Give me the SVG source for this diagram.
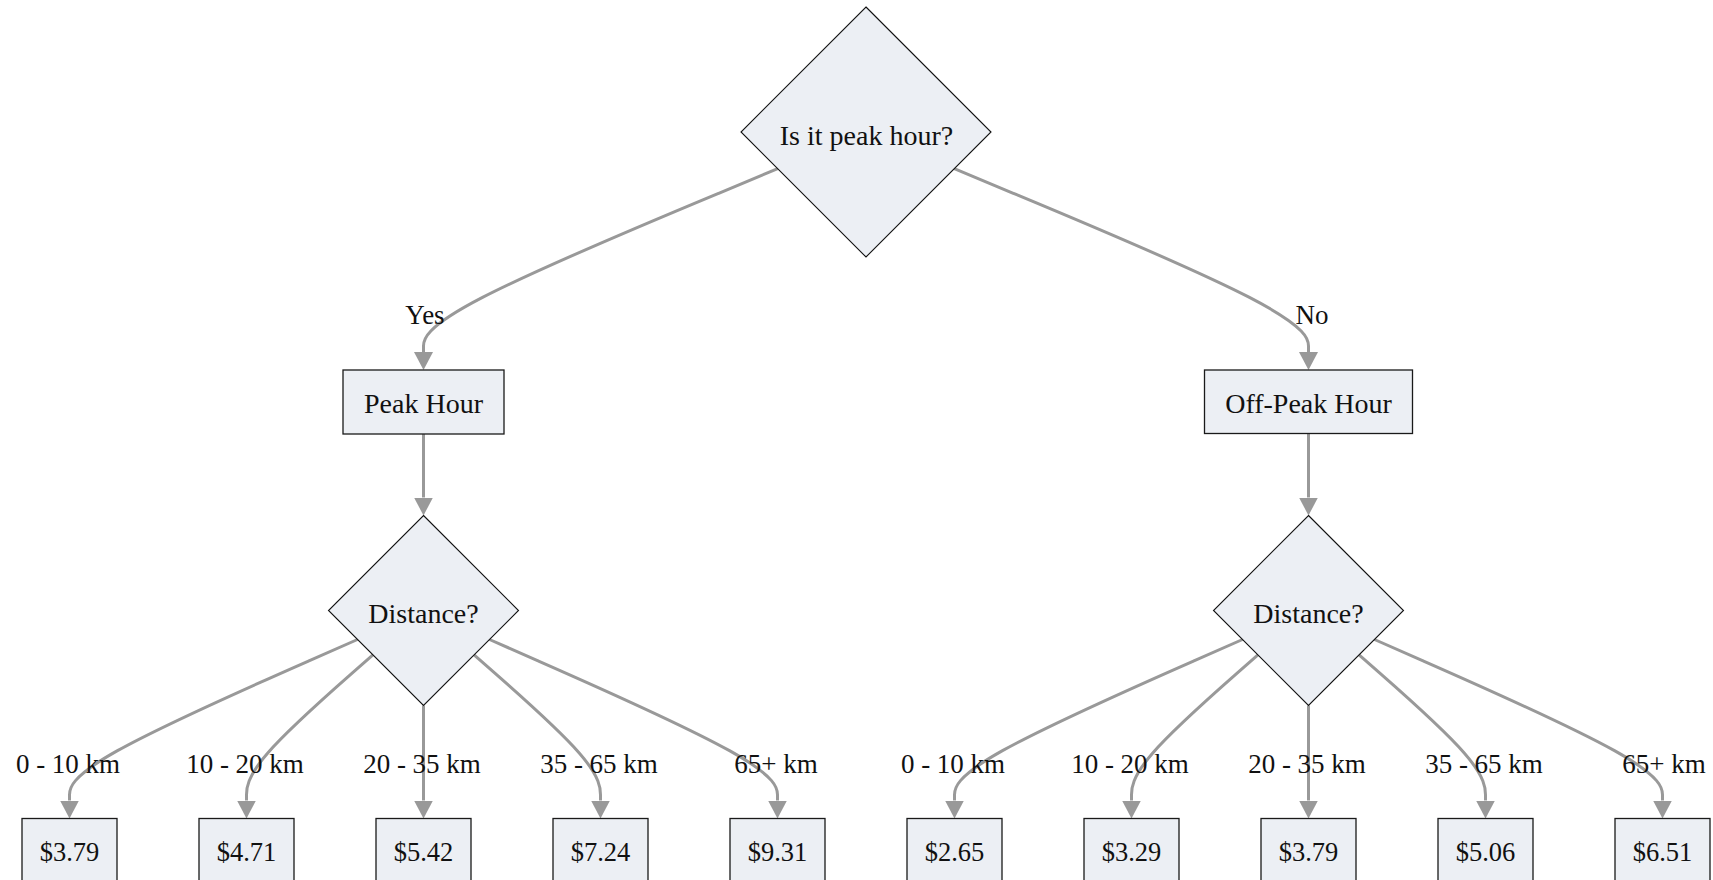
<svg xmlns="http://www.w3.org/2000/svg" width="1713" height="880" viewBox="0 0 1713 880">
<style>
.node{fill:#eceff4;stroke:#1a1a1a;stroke-width:1.3}
.dia{fill:#eceff4;stroke:#111;stroke-width:1.1}
.t{font-family:"Liberation Serif",serif;font-size:28px;fill:#111;text-anchor:middle}
.p{font-family:"Liberation Serif",serif;font-size:26.5px;fill:#111;text-anchor:middle}
.l{font-family:"Liberation Serif",serif;font-size:27px;fill:#111;text-anchor:middle}
.e{fill:none;stroke:#999;stroke-width:3;marker-end:url(#arr)}
</style>
<defs>
<marker id="arr" markerUnits="userSpaceOnUse" markerWidth="18" markerHeight="19" refX="0" refY="9.5" orient="auto">
<path d="M0,0 L18,9.5 L0,19 z" fill="#999"/>
</marker>
</defs>
<rect width="1713" height="880" fill="#fff"/>
<g id="connectors">
<path class="e" d="M777.71,168.71 L718.68,193.26 C659.64,217.81 541.57,266.9 482.54,297.45 C423.5,328 423.5,340 423.5,346 L423.5,352"/>
<path class="e" d="M954.29,168.71 L1013.32,193.26 C1072.36,217.81 1190.43,266.9 1249.46,297.45 C1308.5,328 1308.5,340 1308.5,346 L1308.5,352"/>
<path class="e" d="M423.5,434 L423.5,497.5"/>
<path class="e" d="M1308.5,433.5 L1308.5,497.5"/>
<path class="e" d="M357.5,639.5 L309.5,660.58 C261.5,681.67 165.5,723.83 117.5,750.67 C69.5,777.5 69.5,789 69.5,794.75 L69.5,800.5"/>
<path class="e" d="M372.93,654.93 L351.86,673.44 C330.79,691.95 288.64,728.98 267.57,753.24 C246.5,777.5 246.5,789 246.5,794.75 L246.5,800.5"/>
<path class="e" d="M423.5,705.5 L423.5,800.5"/>
<path class="e" d="M474.07,654.93 L495.14,673.44 C516.21,691.95 558.36,728.98 579.43,753.24 C600.5,777.5 600.5,789 600.5,794.75 L600.5,800.5"/>
<path class="e" d="M489.5,639.5 L537.5,660.58 C585.5,681.67 681.5,723.83 729.5,750.67 C777.5,777.5 777.5,789 777.5,794.75 L777.5,800.5"/>
<path class="e" d="M1242.5,639.5 L1194.5,660.58 C1146.5,681.67 1050.5,723.83 1002.5,750.67 C954.5,777.5 954.5,789 954.5,794.75 L954.5,800.5"/>
<path class="e" d="M1257.93,654.93 L1236.86,673.44 C1215.79,691.95 1173.64,728.98 1152.57,753.24 C1131.5,777.5 1131.5,789 1131.5,794.75 L1131.5,800.5"/>
<path class="e" d="M1308.5,705.5 L1308.5,800.5"/>
<path class="e" d="M1359.07,654.93 L1380.14,673.44 C1401.21,691.95 1443.36,728.98 1464.43,753.24 C1485.5,777.5 1485.5,789 1485.5,794.75 L1485.5,800.5"/>
<path class="e" d="M1374.5,639.5 L1422.5,660.58 C1470.5,681.67 1566.5,723.83 1614.5,750.67 C1662.5,777.5 1662.5,789 1662.5,794.75 L1662.5,800.5"/>
<text class="l" x="425" y="324">Yes</text>
<text class="l" x="1312" y="324">No</text>
<text class="l" x="68" y="773">0 - 10 km</text>
<text class="l" x="245" y="773">10 - 20 km</text>
<text class="l" x="422" y="773">20 - 35 km</text>
<text class="l" x="599" y="773">35 - 65 km</text>
<text class="l" x="776" y="773">65+ km</text>
<text class="l" x="953" y="773">0 - 10 km</text>
<text class="l" x="1130" y="773">10 - 20 km</text>
<text class="l" x="1307" y="773">20 - 35 km</text>
<text class="l" x="1484" y="773">35 - 65 km</text>
<text class="l" x="1664" y="773">65+ km</text>
</g>
<g id="peak-question">
<polygon class="dia" points="866,7 991,132 866,257 741,132"/>
<text class="t" x="866.5" y="145">Is it peak hour?</text>
</g>
<g id="peak-hour">
<rect class="node" x="343" y="370" width="161" height="64"/>
<text class="t" x="423.5" y="412.5">Peak Hour</text>
</g>
<g id="off-peak-hour">
<rect class="node" x="1204.5" y="370" width="208" height="63.5"/>
<text class="t" x="1308.5" y="412.5">Off-Peak Hour</text>
</g>
<g id="distance-peak">
<polygon class="dia" points="423.5,515.5 518.5,610.5 423.5,705.5 328.5,610.5"/>
<text class="t" x="423.5" y="622.5">Distance?</text>
</g>
<g id="distance-offpeak">
<polygon class="dia" points="1308.5,515.5 1403.5,610.5 1308.5,705.5 1213.5,610.5"/>
<text class="t" x="1308.5" y="622.5">Distance?</text>
</g>
<g id="p1"><rect class="node" x="22" y="818.5" width="95" height="64"/><text class="p" x="69.5" y="861">$3.79</text></g>
<g id="p2"><rect class="node" x="199" y="818.5" width="95" height="64"/><text class="p" x="246.5" y="861">$4.71</text></g>
<g id="p3"><rect class="node" x="376" y="818.5" width="95" height="64"/><text class="p" x="423.5" y="861">$5.42</text></g>
<g id="p4"><rect class="node" x="553" y="818.5" width="95" height="64"/><text class="p" x="600.5" y="861">$7.24</text></g>
<g id="p5"><rect class="node" x="730" y="818.5" width="95" height="64"/><text class="p" x="777.5" y="861">$9.31</text></g>
<g id="o1"><rect class="node" x="907" y="818.5" width="95" height="64"/><text class="p" x="954.5" y="861">$2.65</text></g>
<g id="o2"><rect class="node" x="1084" y="818.5" width="95" height="64"/><text class="p" x="1131.5" y="861">$3.29</text></g>
<g id="o3"><rect class="node" x="1261" y="818.5" width="95" height="64"/><text class="p" x="1308.5" y="861">$3.79</text></g>
<g id="o4"><rect class="node" x="1438" y="818.5" width="95" height="64"/><text class="p" x="1485.5" y="861">$5.06</text></g>
<g id="o5"><rect class="node" x="1615" y="818.5" width="95" height="64"/><text class="p" x="1662.5" y="861">$6.51</text></g>
</svg>
